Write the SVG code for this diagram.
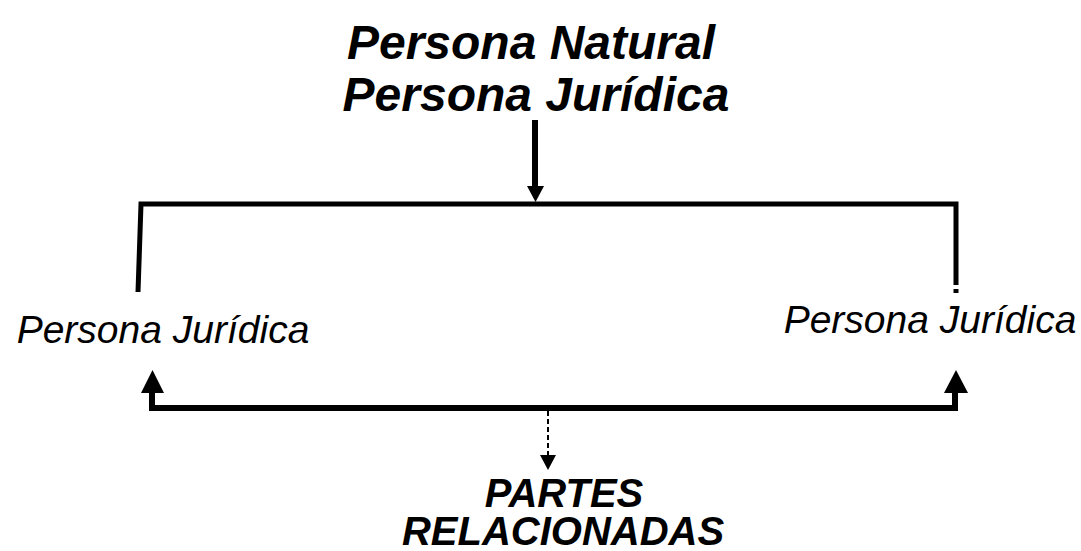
<svg xmlns="http://www.w3.org/2000/svg" width="1081" height="551" viewBox="0 0 1081 551">
<style>
.t{font-family:"Liberation Sans",Arial,sans-serif;font-style:italic;fill:#000;text-anchor:middle}
.b{font-weight:bold}
.ln{stroke:#000;fill:none}
</style>
<defs>
<marker id="ah" markerWidth="10" markerHeight="10" refX="0" refY="0" viewBox="-5 -5 10 10" orient="auto" markerUnits="userSpaceOnUse"/>
</defs>
<rect width="1081" height="551" fill="#fff"/>
<g id="top">
<text class="t b" x="531" y="59" font-size="48">Persona Natural</text>
<text class="t b" x="536" y="111" font-size="48">Persona Jurídica</text>
</g>
<g id="left">
<text class="t" x="163" y="343" font-size="39">Persona Jurídica</text>
</g>
<g id="right">
<text class="t" x="930" y="333" font-size="39">Persona Jurídica</text>
</g>
<g id="partes">
<text class="t b" x="564" y="507" font-size="40">PARTES</text>
<text class="t b" x="563" y="545" font-size="40">RELACIONADAS</text>
</g>
<g id="connectors">
<line class="ln" x1="535" y1="120" x2="535" y2="188" stroke-width="6"/>
<polygon points="527,186 544,186 535.5,202" fill="#000"/>
<polyline class="ln" points="138,292 141,204 956,204 956,285" stroke-width="5"/>
<line class="ln" x1="956" y1="289" x2="956" y2="293" stroke-width="5"/>
<polyline class="ln" points="152,393 152,408 955,408 955,393" stroke-width="6"/>
<polygon points="141,393 164,393 152.5,370" fill="#000"/>
<polygon points="944,393 968,393 956,370" fill="#000"/>
<line class="ln" x1="548" y1="411" x2="548" y2="456" stroke-width="2" stroke-dasharray="5,3"/>
<polygon points="540,455 556,455 548,470" fill="#000"/>
</g>
</svg>
